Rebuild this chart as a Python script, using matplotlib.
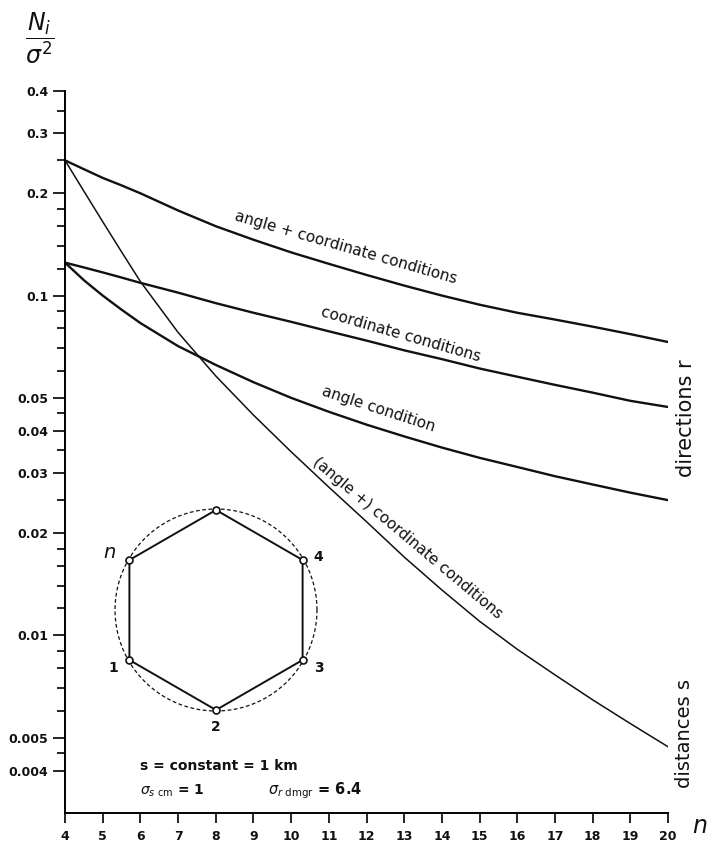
import numpy as np
import matplotlib
matplotlib.use("Agg")
import matplotlib.pyplot as plt

# values, N_i / sigma^2 against n
n = [4, 4.5, 5, 5.5, 6, 7, 8, 9, 10, 11, 12, 13, 14, 15, 16, 17, 18, 19, 20]
angle_coord = [0.250, 0.2355, 0.222, 0.211, 0.200, 0.178, 0.160, 0.146, 0.134, 0.124,
               0.115, 0.107, 0.100, 0.094, 0.089, 0.085, 0.081, 0.077, 0.073]
coord = [0.125, 0.121, 0.117, 0.113, 0.109, 0.102, 0.095, 0.089, 0.0837, 0.0785,
         0.0737, 0.069, 0.065, 0.061, 0.0577, 0.0546, 0.0518, 0.049, 0.047]
angle = [0.125, 0.111, 0.100, 0.0909, 0.083, 0.071, 0.0625, 0.0556, 0.050, 0.0455,
         0.0417, 0.0385, 0.0357, 0.0333, 0.0313, 0.0294, 0.0278, 0.0263, 0.025]
dist = [0.250, 0.203, 0.165, 0.1345, 0.110, 0.0779, 0.0580, 0.0445, 0.0347, 0.0273,
        0.0216, 0.0170, 0.0136, 0.0110, 0.0091, 0.00765, 0.00646, 0.0055, 0.0047]

yticks = [0.4, 0.3, 0.2, 0.1, 0.05, 0.04, 0.03, 0.02, 0.01, 0.005, 0.004]
ylabels = ['0.4', '0.3', '0.2', '0.1', '0.05', '0.04', '0.03', '0.02', '0.01', '0.005', '0.004']
yminor = [0.35, 0.25, 0.18, 0.16, 0.14, 0.12, 0.09, 0.08, 0.07, 0.06, 0.045, 0.035,
          0.025, 0.018, 0.016, 0.014, 0.012, 0.009, 0.008, 0.007, 0.006, 0.0045]

hex_angles = [90, 150, 210, 270, 330, 30]   # polygon corners, degrees
hex_labels = ['', 'n', '1', '2', '3', '4']

ink = '#111111'
W, H = 711, 846
fig = plt.figure(figsize=(W / 100, H / 100), dpi=100)
ax = fig.add_axes([65 / W, 1 - 813 / H, (668 - 65) / W, (813 - 91) / H])

ax.semilogy(n, angle_coord, color=ink, lw=1.7)
ax.semilogy(n, coord, color=ink, lw=1.7)
ax.semilogy(n, angle, color=ink, lw=1.7)
ax.semilogy(n, dist, color=ink, lw=1.1)

ax.set_xlim(4, 20)
ax.set_ylim(0.003, 0.4)
ax.spines['top'].set_visible(False)
ax.spines['right'].set_visible(False)
ax.spines['left'].set_linewidth(1.4)
ax.spines['bottom'].set_linewidth(1.4)
ax.spines['left'].set_bounds(0.003, 0.4)

ax.set_xticks(range(4, 21))
ax.set_yticks(yticks)
ax.set_yticklabels(ylabels)
ax.set_yticks(yminor, minor=True)
ax.yaxis.set_minor_formatter(matplotlib.ticker.NullFormatter())
ax.tick_params(axis='y', which='major', length=9, width=1.2, direction='out', pad=3)
ax.tick_params(axis='y', which='minor', length=6, width=1.2, direction='out')
ax.tick_params(axis='x', which='major', length=7, width=1.2, direction='out', pad=5)
ax.tick_params(axis='x', which='minor', length=0)
for lab in ax.get_xticklabels() + ax.get_yticklabels():
    lab.set_fontsize(9)
    lab.set_fontweight('bold')
    lab.set_color(ink)

# labels along the curves
ax.text(11.45, 0.1384, 'angle + coordinate conditions', rotation=-16, ha='center',
        va='center', fontsize=11, color=ink, rotation_mode='anchor')
ax.text(12.91, 0.0768, 'coordinate conditions', rotation=-16, ha='center',
        va='center', fontsize=11, color=ink, rotation_mode='anchor')
ax.text(12.32, 0.0462, 'angle condition', rotation=-18, ha='center',
        va='center', fontsize=11, color=ink, rotation_mode='anchor')
ax.text(13.1, 0.0193, '(angle +) coordinate conditions', rotation=-40, ha='center',
        va='center', fontsize=11, color=ink, rotation_mode='anchor')

# right-hand group labels
fig.text(686 / W, 1 - 418 / H, 'directions r', rotation=90, ha='center', va='center',
         fontsize=15, color=ink)
fig.text(684 / W, 1 - 733 / H, 'distances s', rotation=90, ha='center', va='center',
         fontsize=14, color=ink)

fig.text(700 / W, 1 - 826 / H, 'n', style='italic', fontsize=17, ha='center',
         va='center', color=ink)
fig.text(40 / W, 1 - 38 / H, r'$\dfrac{N_i}{\sigma^2}$', fontsize=17, ha='center',
         va='center', color=ink)

fig.text(140 / W, 1 - 766 / H, 's = constant = 1 km', fontsize=10, fontweight='bold',
         ha='left', va='center', color=ink)
fig.text(140 / W, 1 - 791 / H, r'$\sigma_{s\ \mathrm{cm}}$ = 1', fontsize=10,
         fontweight='bold', ha='left', va='center', color=ink)
fig.text(268 / W, 1 - 791 / H, r'$\sigma_{r\ \mathrm{dmgr}}$ = 6.4', fontsize=10.5,
         fontweight='bold', ha='left', va='center', color=ink)

# hexagon inset
hx = fig.add_axes([96 / W, 1 - 730 / H, 240 / W, 240 / H])
hx.set_xlim(-1.2, 1.2)
hx.set_ylim(-1.2, 1.2)
hx.axis('off')
t = np.linspace(0, 2 * np.pi, 200)
hx.plot(1.01 * np.cos(t), 1.01 * np.sin(t), color=ink, lw=0.9, ls=(0, (3, 2)))
a = np.radians(hex_angles + hex_angles[:1])
hx.plot(np.cos(a), np.sin(a), color=ink, lw=1.4)
hx.plot(np.cos(a[:-1]), np.sin(a[:-1]), 'o', ms=5, mfc='white', mec=ink, mew=1.2)
for ang, lab in zip(hex_angles, hex_labels):
    if not lab:
        continue
    r = np.radians(ang)
    x, y = np.cos(r), np.sin(r)
    if ang == 270:
        hx.text(x, y - 0.17, lab, ha='center', va='center', fontsize=10,
                fontweight='bold', color=ink)
    elif lab == 'n':
        hx.text(x - 0.2, y + 0.08, lab, ha='center', va='center', fontsize=14,
                style='italic', color=ink)
    else:
        dx = 0.16 if x > 0 else -0.16
        hx.text(x + dx, y + (0.03 if y > 0 else -0.08), lab, ha='center',
                va='center', fontsize=10, fontweight='bold', color=ink)

fig.savefig('out.png', dpi=100)
